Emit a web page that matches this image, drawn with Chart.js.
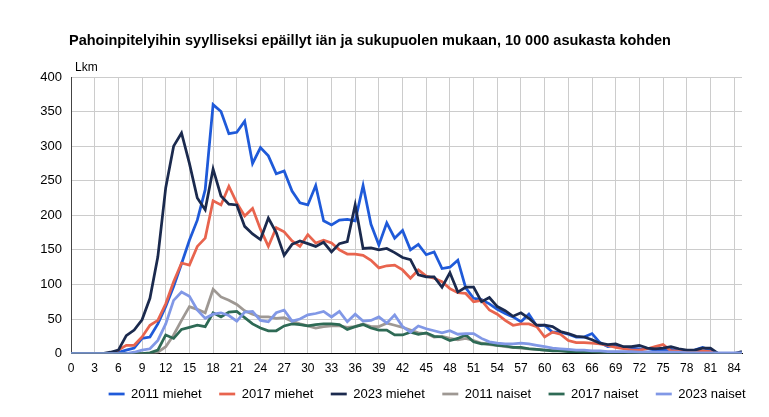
<!DOCTYPE html>
<html>
<head>
<meta charset="utf-8">
<script src="https://cdn.jsdelivr.net/npm/chart.js@4"></script>
<style>
html, body { margin: 0; padding: 0; background: #fff; }
</style>
</head>
<body>
<canvas id="myChart" width="769" height="417"></canvas>
<script>
const chartTitle = "Pahoinpitelyihin syylliseksi epäillyt iän ja sukupuolen mukaan, 10 000 asukasta kohden";
const yUnit = "Lkm";

// ages 0..85
const ages = [];
for (let a = 0; a <= 85; a++) ages.push(a);

const seriesNames = ["2011 miehet", "2017 miehet", "2023 miehet", "2011 naiset", "2017 naiset", "2023 naiset"];
const seriesColors = ["#1f5ad9", "#e8644e", "#1b2a4e", "#9e9893", "#2e6a55", "#8198e6"];

const miehet2011 = [0, 0, 0, 0, 0, 0, 2, 5, 8, 22, 24, 43, 68, 97, 130, 164, 193, 237, 360, 350,
  318, 320, 336, 275, 298, 286, 260, 264, 235, 218, 215, 243, 192, 186, 193, 194, 192, 243, 187, 157,
  189, 167, 178, 150, 158, 143, 147, 123, 125, 135, 95, 80, 78, 72, 64, 58, 53, 46, 57, 40,
  41, 31, 31, 28, 24, 24, 29, 16, 10, 12, 9, 8, 7, 7, 5, 5, 6, 4, 4, 5,
  9, 5, 0, 0, 0, 0];
const miehet2017 = [0, 0, 0, 0, 0, 0, 5, 12, 12, 24, 41, 48, 72, 104, 131, 128, 155, 167, 221, 215,
  242, 218, 199, 210, 180, 155, 182, 176, 163, 155, 172, 160, 164, 160, 150, 144, 144, 142, 135, 124,
  127, 128, 121, 109, 121, 112, 109, 104, 94, 88, 87, 75, 77, 63, 57, 48, 41, 43, 43, 39,
  24, 31, 28, 19, 16, 16, 15, 14, 12, 9, 7, 5, 5, 7, 10, 13, 4, 4, 2, 3,
  4, 3, 0, 0, 0, 0];
const miehet2023 = [0, 0, 0, 0, 0, 2, 5, 26, 34, 49, 80, 140, 240, 300, 319, 275, 225, 208, 267, 228,
  216, 215, 184, 173, 165, 196, 175, 142, 158, 163, 159, 155, 161, 147, 159, 162, 215, 152, 153, 150,
  152, 146, 139, 136, 114, 111, 111, 96, 117, 89, 96, 96, 75, 81, 68, 62, 54, 59, 51, 41,
  41, 39, 32, 29, 25, 24, 20, 15, 13, 14, 10, 10, 12, 8, 7, 8, 10, 7, 5, 5,
  8, 8, 0, 0, 0, 3];
const naiset2011 = [0, 0, 0, 0, 0, 0, 0, 0, 0, 0, 0, 2, 10, 27, 48, 68, 64, 59, 93, 82,
  77, 71, 62, 57, 53, 53, 51, 52, 47, 43, 40, 37, 39, 40, 40, 38, 39, 43, 39, 39,
  44, 41, 38, 34, 30, 29, 24, 25, 22, 20, 22, 19, 15, 13, 12, 10, 9, 8, 7, 6,
  5, 5, 4, 4, 3, 3, 3, 2, 2, 2, 2, 1, 1, 1, 1, 1, 1, 1, 1, 1,
  0, 0, 0, 0, 0, 0];
const naiset2017 = [0, 0, 0, 0, 0, 0, 0, 0, 0, 0, 1, 5, 27, 22, 35, 38, 41, 39, 59, 53,
  60, 61, 52, 43, 37, 33, 33, 40, 43, 42, 40, 42, 43, 43, 42, 35, 39, 42, 37, 34,
  34, 27, 27, 31, 28, 30, 25, 24, 19, 22, 27, 17, 14, 14, 12, 11, 9, 9, 7, 6,
  5, 4, 4, 3, 3, 2, 2, 2, 1, 1, 1, 1, 1, 1, 1, 1, 0, 0, 0, 0,
  0, 0, 0, 0, 0, 0];
const naiset2023 = [0, 0, 0, 0, 0, 0, 0, 0, 2, 5, 7, 19, 43, 77, 89, 83, 63, 51, 57, 59,
  55, 47, 60, 61, 48, 46, 59, 63, 47, 50, 56, 58, 61, 53, 61, 46, 57, 47, 48, 53,
  44, 56, 39, 31, 40, 36, 33, 30, 33, 28, 29, 29, 22, 17, 15, 14, 14, 15, 14, 12,
  10, 8, 7, 6, 5, 5, 4, 4, 3, 3, 3, 3, 2, 2, 2, 2, 2, 2, 1, 1,
  1, 1, 1, 1, 1, 1];

const allSeries = [miehet2011, miehet2017, miehet2023, naiset2011, naiset2017, naiset2023];

const yTicksMax = 400;
const yStep = 50;
const xStep = 3;

const fontFamily = '"Liberation Sans", Arial, sans-serif';

// title and the "Lkm" label above the y axis
const textPlugin = {
  id: 'textPlugin',
  afterDraw(chart) {
    const ctx = chart.ctx;
    const area = chart.chartArea;
    ctx.save();
    ctx.fillStyle = '#000';
    ctx.textBaseline = 'alphabetic';
    ctx.font = 'bold 14.5px ' + fontFamily;
    ctx.fillText(chartTitle, area.left - 2, 45);
    ctx.font = '12px ' + fontFamily;
    ctx.fillText(yUnit, area.left + 4, 71);
    ctx.restore();
  }
};

// legend uses wide horizontal padding, but should sit closer to the axis
const legendFix = {
  id: 'legendFix',
  afterInit(chart) {
    const lg = chart.legend;
    const fit = lg.fit;
    lg.fit = function () {
      fit.call(this);
      this.height = 33;
    };
    const draw = lg.draw;
    lg.draw = function () {
      this.top -= 14;
      draw.call(this);
      this.top += 14;
    };
  }
};

const datasets = allSeries.map((values, i) => ({
  label: seriesNames[i],
  data: values.map((v, j) => ({ x: ages[j], y: v })),
  borderColor: seriesColors[i],
  backgroundColor: seriesColors[i],
  borderWidth: 2.75,
  pointRadius: 0,
  tension: 0,
  order: allSeries.length - i
}));

const ctx = document.getElementById('myChart').getContext('2d');
const myChart = new Chart(ctx, {
  type: 'line',
  data: { datasets: datasets },
  options: {
    responsive: false,
    animation: false,
    layout: { padding: { top: 77, left: 0, right: 6, bottom: 0 } },
    scales: {
      x: {
        type: 'linear',
        min: 0,
        max: 85,
        ticks: {
          stepSize: xStep,
          includeBounds: false,
          autoSkip: false,
          maxRotation: 0,
          color: '#000',
          font: { family: fontFamily, size: 12 },
          padding: 8
        },
        grid: { color: '#cccccc', drawTicks: false },
        border: { color: '#000', width: 1 },
        afterFit(scale) {
          scale.paddingRight = 27;
        }
      },
      y: {
        min: 0,
        max: yTicksMax,
        ticks: {
          stepSize: yStep,
          color: '#000',
          font: { family: fontFamily, size: 13 },
          padding: 9
        },
        grid: { color: '#cccccc', drawTicks: false },
        border: { color: '#444', width: 1 },
        afterFit(scale) {
          scale.width = 71;
        }
      }
    },
    plugins: {
      legend: {
        position: 'bottom',
        align: 'end',
        labels: {
          usePointStyle: true,
          pointStyle: 'line',
          pointStyleWidth: 16,
          padding: 17.5,
          color: '#000',
          font: { family: fontFamily, size: 13 },
          sort: (a, b) => a.datasetIndex - b.datasetIndex
        }
      },
      tooltip: { enabled: false }
    }
  },
  plugins: [textPlugin, legendFix]
});
</script>
</body>
</html>
